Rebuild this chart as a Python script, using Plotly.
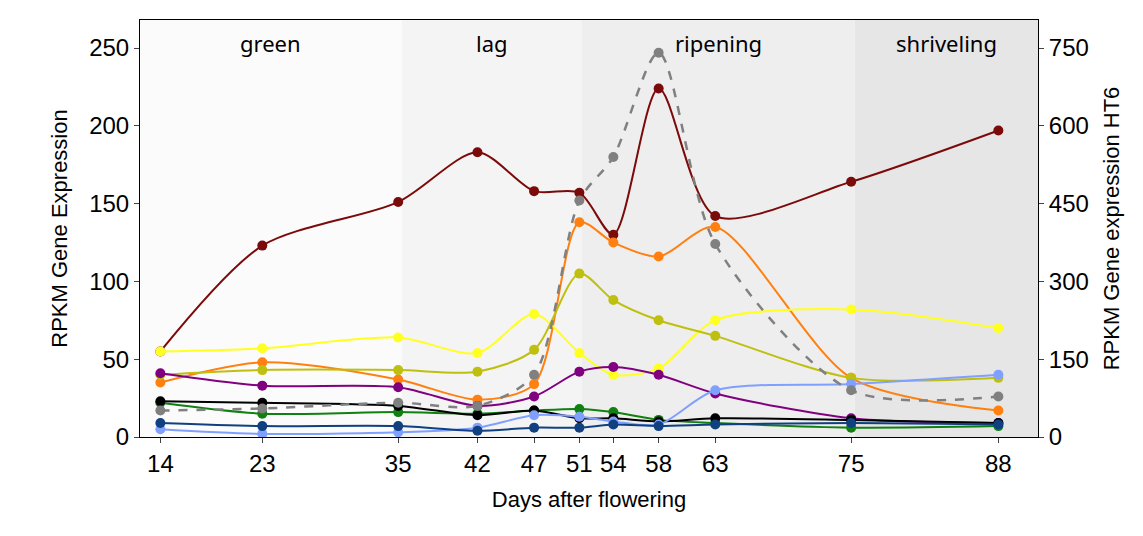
import plotly.graph_objects as go

days = [14, 23, 35, 42, 47, 51, 54, 58, 63, 75, 88]

dark_red = [55, 123, 151, 183, 158, 157, 130, 224, 142, 164, 197]
orange = [35, 48, 37, 24, 34, 138, 125, 116, 135, 38, 17]
yellow = [55, 57, 64, 54, 79, 54, 40, 44, 75, 82, 70]
olive = [40, 43, 43, 42, 56, 105, 88, 75, 65, 38, 38]
purple = [41, 33, 32, 20, 26, 42, 45, 40, 28, 12, 9]
green = [22, 15, 16, 15, 17, 18, 16, 11, 9, 6, 7]
black = [23, 22, 20, 14, 17, 12, 12, 10, 12, 11, 9]
light_blue = [5, 2, 3, 6, 14, 13, 10, 8, 30, 34, 40]
dark_blue = [9, 7, 7, 4, 6, 6, 8, 7, 8, 9, 8]
ht6 = [51, 55, 66, 60, 120, 456, 540, 741, 372, 90, 78]

stages = ["green", "lag", "ripening", "shriveling"]
stage_bounds = [12.2, 35.3, 51.2, 75.3, 91.5]
stage_fill = ["#fbfbfb", "#f4f4f4", "#eeeeee", "#e6e6e6"]

fig = go.Figure()

left = [
    (dark_red, "#7b0a0a"), (orange, "#ff8010"), (yellow, "#ffff20"),
    (olive, "#bfbf10"), (purple, "#800080"), (green, "#108010"),
    (black, "#000000"), (light_blue, "#80a0ff"), (dark_blue, "#104080"),
]
for vals, col in left:
    fig.add_trace(go.Scatter(x=days, y=vals, mode="lines+markers",
                             line=dict(color=col, width=2, shape="spline", smoothing=0.8),
                             marker=dict(size=10, color=col), showlegend=False))

fig.add_trace(go.Scatter(x=days, y=ht6, mode="lines+markers", yaxis="y2",
                         line=dict(color="#808080", width=2.5, dash="dash", shape="spline", smoothing=0.8),
                         marker=dict(size=10, color="#808080"), showlegend=False))

for i, s in enumerate(stages):
    fig.add_shape(type="rect", xref="x", yref="paper", x0=stage_bounds[i], x1=stage_bounds[i + 1],
                  y0=0, y1=1, fillcolor=stage_fill[i], line_width=0, layer="below")
    fig.add_annotation(x=(stage_bounds[i] + stage_bounds[i + 1]) / 2, y=0.985, xref="x", yref="paper",
                       text=s, showarrow=False, yanchor="top",
                       font=dict(family="Noto Sans", size=22, color="#000"))

fig.update_layout(
    width=1143, height=536, plot_bgcolor="white", paper_bgcolor="white",
    margin=dict(l=132, r=113, t=12, b=107),
    font=dict(family="Liberation Sans", size=24, color="#000"),
    xaxis=dict(range=[12.2, 91.5], tickvals=days, ticks="outside", showgrid=False,
               showline=True, linecolor="#000", mirror=True,
               title=dict(text="Days after flowering", font=dict(size=22))),
    yaxis=dict(range=[0, 268], dtick=50, ticks="outside", showgrid=False,
               showline=True, linecolor="#000", zeroline=False,
               title=dict(text="RPKM Gene Expression", font=dict(size=22))),
    yaxis2=dict(range=[0, 804], tickvals=[0, 150, 300, 450, 600, 750], overlaying="y",
                side="right", ticks="outside", showgrid=False, showline=True,
                linecolor="#000", zeroline=False,
                title=dict(text="RPKM Gene expression HT6", font=dict(size=22))),
)

fig.write_html("out.html")
